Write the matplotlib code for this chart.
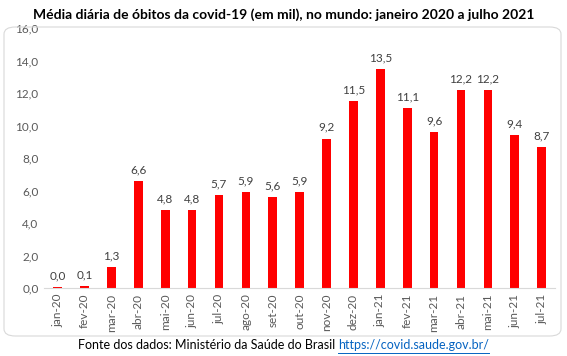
import matplotlib
matplotlib.use("Agg")
import matplotlib.pyplot as plt
from matplotlib.patches import FancyBboxPatch

months = ["jan-20", "fev-20", "mar-20", "abr-20", "mai-20", "jun-20", "jul-20", "ago-20",
          "set-20", "out-20", "nov-20", "dez-20", "jan-21", "fev-21", "mar-21", "abr-21",
          "mai-21", "jun-21", "jul-21"]
values = [0.04, 0.1, 1.3, 6.6, 4.8, 4.8, 5.7, 5.9, 5.6, 5.9, 9.2, 11.5, 13.5, 11.1, 9.6,
          12.2, 12.2, 9.4, 8.7]
yticks = [0, 2, 4, 6, 8, 10, 12, 14, 16]

plt.rcParams['font.family'] = ['Lato', 'DejaVu Sans']

fig = plt.figure(figsize=(5.67, 3.56), dpi=100)
ax = fig.add_axes([0.078, 0.191, 0.901, 0.730])

x = list(range(len(months)))
ax.bar(x, values, width=0.32, color="#ff0000", zorder=2)
for xi, v in zip(x, values):
    ax.text(xi, v + 0.35, f"{v:.1f}".replace(".", ","), ha="center", va="bottom",
            fontsize=8.5, color="#404040")

ax.set_xlim(-0.5, len(months) - 0.5)
ax.set_ylim(0, 16)
ax.set_yticks(yticks)
ax.set_yticklabels([f"{t:.1f}".replace(".", ",") for t in yticks], fontsize=8.5, color="#595959")
ax.set_xticks(x)
ax.set_xticklabels(months, rotation=90, fontsize=8.5, color="#595959")
ax.tick_params(axis="both", length=0, pad=4)
for s in ["top", "right", "left"]:
    ax.spines[s].set_visible(False)
ax.spines["bottom"].set_color("#d9d9d9")
ax.spines["bottom"].set_linewidth(0.8)

fig.text(0.5, 0.958, "Média diária de óbitos da covid-19 (em mil), no mundo: janeiro 2020 a julho 2021",
         ha="center", va="center", fontsize=10, fontweight="bold", color="black")

box = FancyBboxPatch((4 / 567, 1 - 336 / 356), 557 / 567, 309 / 356,
                     boxstyle="round,pad=0,rounding_size=0.02", transform=fig.transFigure,
                     facecolor="none", edgecolor="#d9d9d9", linewidth=0.8)
fig.patches.append(box)

# footer: place two pieces side by side, centred together
fig.canvas.draw()
r = fig.canvas.get_renderer()
t1 = fig.text(0, 0.03, "Fonte dos dados: Ministério da Saúde do Brasil ", ha="left",
              va="center", fontsize=9, color="black")
t2 = fig.text(0, 0.03, "https://covid.saude.gov.br/", ha="left", va="center",
              fontsize=9, color="#0563c1")
w1 = t1.get_window_extent(r).width / 567
w2 = t2.get_window_extent(r).width / 567
x0 = 0.5 - (w1 + w2) / 2
t1.set_x(x0)
t2.set_x(x0 + w1)
fig.add_artist(plt.Line2D([x0 + w1, x0 + w1 + w2], [0.009, 0.009], transform=fig.transFigure,
                          color="#0563c1", linewidth=0.7))

fig.savefig("out.png", dpi=100)
